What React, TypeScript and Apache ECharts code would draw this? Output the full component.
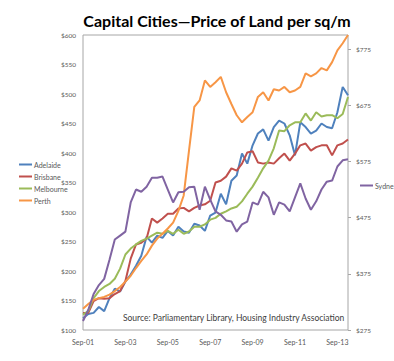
import React, { useEffect, useRef } from "react";
import * as echarts from "echarts";

const months = ["Sep", "Dec", "Mar", "Jun"];
const categories: string[] = [];
for (let i = 0; i < 51; i++) {
  const m = months[i % 4];
  const yr = 1 + Math.floor((i + 1) / 4);
  categories.push(m + "-" + String(yr).padStart(2, "0"));
}

const adelaide = [120, 127, 129, 139, 132, 154, 170, 165, 182, 194, 209, 226, 258, 248, 260, 256, 268, 260, 275, 267, 265, 280, 277, 268, 294, 299, 331, 313, 353, 362, 399, 382, 413, 433, 440, 421, 444, 455, 450, 430, 396, 452, 444, 433, 438, 450, 444, 442, 469, 512, 498];
const brisbane = [129, 129, 149, 154, 153, 154, 161, 166, 183, 221, 245, 248, 255, 289, 282, 289, 297, 297, 306, 307, 301, 307, 311, 313, 319, 350, 353, 360, 374, 370, 382, 401, 403, 384, 382, 384, 382, 391, 399, 387, 399, 413, 416, 404, 410, 413, 413, 396, 413, 416, 423];
const melbourne = [126, 132, 154, 166, 173, 178, 187, 204, 228, 238, 245, 251, 255, 260, 265, 263, 268, 263, 270, 263, 267, 275, 275, 279, 287, 290, 297, 301, 306, 309, 318, 331, 343, 358, 374, 387, 408, 438, 437, 447, 452, 452, 467, 455, 469, 462, 464, 464, 459, 466, 495];
const perth = [136, 144, 151, 154, 156, 160, 166, 173, 182, 192, 205, 217, 228, 243, 255, 263, 272, 282, 302, 328, 404, 478, 489, 523, 512, 520, 529, 503, 483, 464, 452, 461, 469, 495, 503, 489, 508, 506, 512, 503, 506, 512, 535, 530, 535, 544, 540, 554, 574, 586, 600];
const sydney = [291, 311, 339, 355, 366, 400, 436, 443, 450, 502, 525, 521, 530, 546, 546, 548, 525, 502, 520, 521, 529, 530, 489, 530, 507, 486, 480, 470, 468, 450, 463, 468, 502, 498, 521, 511, 480, 502, 498, 486, 511, 536, 509, 489, 504, 525, 539, 541, 566, 577, 579];

const rightTicks = [275, 375, 475, 575, 675, 775];

const FONT = "Lato, 'Open Sans', sans-serif";
const GREY = "#595959";

export default function App() {
  const ref = useRef<HTMLDivElement>(null);
  useEffect(() => {
    if (!ref.current) return;
    const chart = echarts.init(ref.current, undefined, { renderer: "svg" });
    const mk = (name: string, data: number[], color: string, yAxisIndex = 0) => ({
      name,
      type: "line",
      data,
      yAxisIndex,
      symbol: "none",
      lineStyle: { color, width: 2 },
      itemStyle: { color },
    });
    chart.setOption({
      animation: false,
      backgroundColor: "#ffffff",
      textStyle: { fontFamily: FONT },
      title: {
        text: "Capital Cities\u2014Price of Land per sq/m",
        left: 212,
        textAlign: "center",
        top: 7,
        textStyle: { fontFamily: FONT, fontSize: 16, fontWeight: "bold", color: "#000" },
      },
      grid: {
        left: 83,
        right: 46,
        top: 35,
        bottom: 31,
        show: true,
        borderColor: "#a6a6a6",
        borderWidth: 1,
        backgroundColor: "transparent",
      },
      legend: [
        {
          orient: "vertical",
          left: 14,
          top: 156,
          itemWidth: 13,
          itemHeight: 2,
          itemGap: 5,
          icon: "rect",
          textStyle: { fontSize: 7, color: GREY, fontFamily: FONT, padding: [0, 0, 0, -3] },
          data: ["Adelaide", "Brisbane", "Melbourne", "Perth"],
        },
        {
          orient: "vertical",
          left: 355,
          top: 177,
          itemWidth: 13,
          itemHeight: 2,
          icon: "rect",
          textStyle: {
            fontSize: 7,
            color: GREY,
            fontFamily: FONT,
            width: 20,
            overflow: "truncate",
            ellipsis: "",
            padding: [0, 0, 0, -3],
          },
          data: ["Sydney"],
        },
      ],
      xAxis: {
        type: "category",
        data: categories,
        boundaryGap: false,
        axisLine: { show: false },
        axisTick: { show: false },
        axisLabel: { interval: 7, fontSize: 7, color: GREY, margin: 8, fontFamily: FONT },
        splitLine: { show: false },
      },
      yAxis: [
        {
          type: "value",
          min: 100,
          max: 600,
          interval: 50,
          axisLine: { show: false },
          axisTick: { show: false },
          splitLine: { show: false },
          axisLabel: { formatter: "${value}", fontSize: 6.5, color: GREY, margin: 7, fontFamily: FONT },
        },
        {
          type: "value",
          position: "right",
          min: 275,
          max: 800,
          axisLine: { show: false },
          axisTick: { show: true, length: 3, lineStyle: { color: "#a6a6a6" }, customValues: rightTicks },
          splitLine: { show: false },
          axisLabel: {
            customValues: rightTicks,
            formatter: "${value}",
            fontSize: 6.5,
            color: GREY,
            margin: 8,
            fontFamily: FONT,
          },
        },
      ],
      graphic: [
        {
          type: "text",
          right: 49,
          top: 313,
          style: {
            text: "Source: Parliamentary Library, Housing Industry Association",
            font: "8.5px " + FONT,
            fill: "#404040",
          },
        },
      ],
      series: [
        mk("Adelaide", adelaide, "#4F81BD"),
        mk("Brisbane", brisbane, "#C0504D"),
        mk("Melbourne", melbourne, "#9BBB59"),
        mk("Perth", perth, "#F79646"),
        mk("Sydney", sydney, "#8064A2", 1),
      ],
    });
    return () => chart.dispose();
  }, []);
  return <div ref={ref} style={{ width: 394, height: 361, position: "absolute", left: 0, top: 0 }} />;
}
